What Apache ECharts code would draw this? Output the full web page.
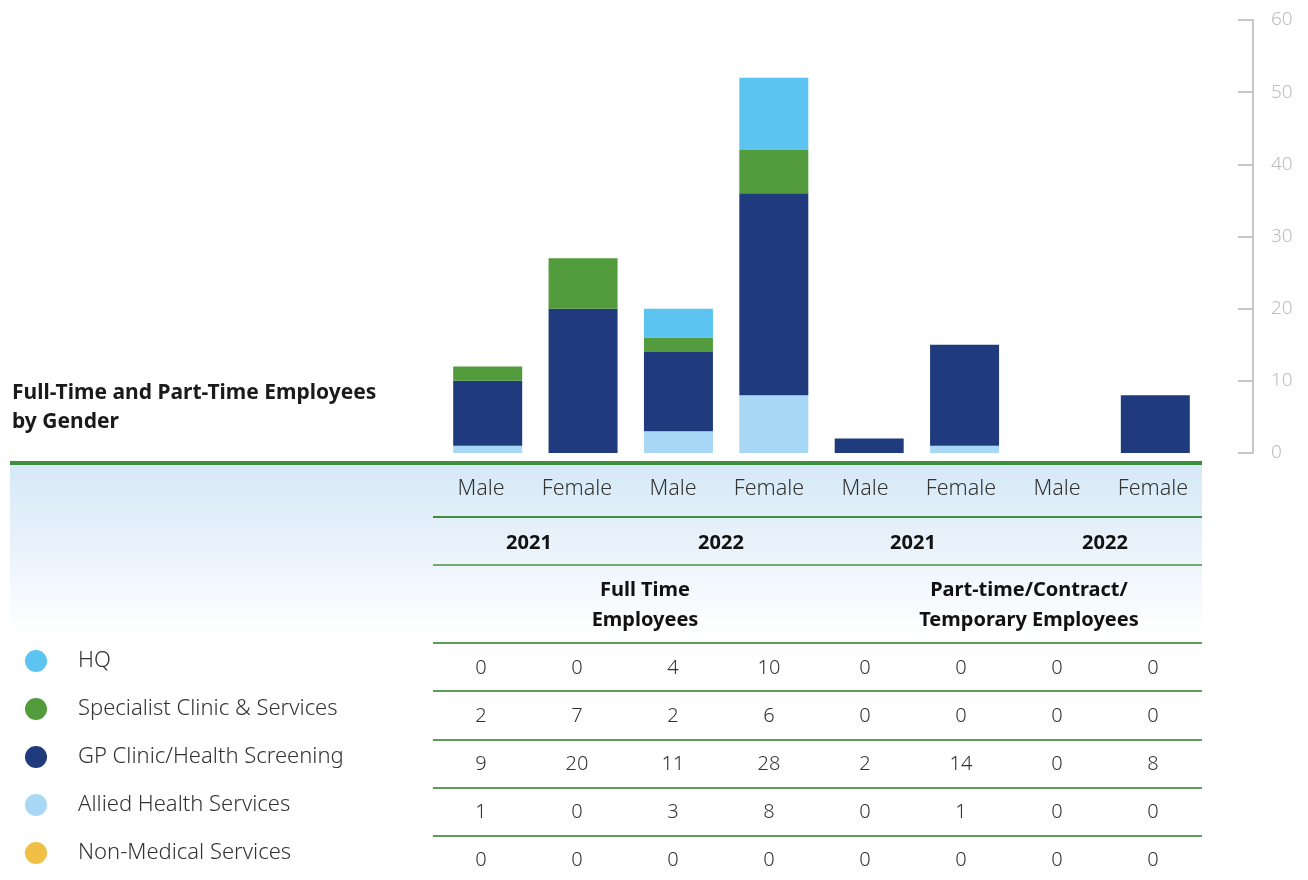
<!DOCTYPE html>
<html>
<head>
<meta charset="utf-8">
<script src="https://cdn.jsdelivr.net/npm/echarts@6/dist/echarts.min.js"></script>
<style>
  html, body { margin: 0; padding: 0; background: #fff; }
  #chart { width: 1308px; height: 880px; }
</style>
</head>
<body>
<div id="chart"></div>
<script>
// data
const genders = ["Male", "Female", "Male", "Female", "Male", "Female", "Male", "Female"];
const years = ["2021", "2022", "2021", "2022"];
const groups = ["Full Time\nEmployees", "Part-time/Contract/\nTemporary Employees"];
const sectors = ["HQ", "Specialist Clinic & Services", "GP Clinic/Health Screening", "Allied Health Services", "Non-Medical Services"];
const hq = [0, 0, 4, 10, 0, 0, 0, 0];
const specialist = [2, 7, 2, 6, 0, 0, 0, 0];
const gp = [9, 20, 11, 28, 2, 14, 0, 8];
const allied = [1, 0, 3, 8, 0, 1, 0, 0];
const nonMedical = [0, 0, 0, 0, 0, 0, 0, 0];
const colors = ["#5bc4f1", "#529c3d", "#1f3a7d", "#a8d8f5", "#f0c046"];

const FONT = "Noto Sans";
const textCol = "#333";
const lineGreen = "#5b9f5b";

// table geometry
const tLeft = 433, colW = 96, tRight = 1202;
const rowY = [668, 716, 764, 812, 860];
const rowLines = [642, 690, 739, 787, 835];

const rows = [hq, specialist, gp, allied, nonMedical];
const colX = (i) => tLeft + colW * i + colW / 2;

const graphics = [];

// header background
graphics.push({
  type: "rect",
  shape: { x: 10, y: 464, width: tRight - 10, height: 172 },
  style: {
    fill: new echarts.graphic.LinearGradient(0, 0, 0, 1, [
      { offset: 0, color: "#d5e8f7" },
      { offset: 0.5, color: "#eaf3fb" },
      { offset: 1, color: "#ffffff" }
    ])
  },
  z: 0
});
// top green rule
graphics.push({
  type: "rect",
  shape: { x: 10, y: 461, width: tRight - 10, height: 4 },
  style: { fill: "#3e8e3e" }
});
// header rules
graphics.push({
  type: "rect",
  shape: { x: tLeft, y: 516, width: tRight - tLeft, height: 2 },
  style: { fill: "#3e8e3e" }
});
graphics.push({
  type: "rect",
  shape: { x: tLeft, y: 564, width: tRight - tLeft, height: 2 },
  style: { fill: "#72aa72" }
});
rowLines.forEach(function (y) {
  graphics.push({
    type: "rect",
    shape: { x: tLeft, y: y, width: tRight - tLeft, height: 2 },
    style: { fill: lineGreen }
  });
});

// title
graphics.push({
  type: "text",
  left: 12,
  top: 379,
  style: {
    text: "Full-Time and Part-Time Employees\nby Gender",
    font: "bold 21px '" + FONT + "'",
    lineHeight: 29,
    fill: "#1a1a1a"
  }
});

// gender row
genders.forEach(function (g, i) {
  graphics.push({
    type: "text",
    x: colX(i), y: 489,
    style: {
      text: g, fill: textCol, align: "center", verticalAlign: "middle",
      font: "300 21.5px '" + FONT + "'"
    }
  });
});
// year row
years.forEach(function (yr, i) {
  graphics.push({
    type: "text",
    x: tLeft + colW * 2 * i + colW, y: 543,
    style: {
      text: yr, fill: "#111", align: "center", verticalAlign: "middle",
      font: "bold 20px '" + FONT + "'"
    }
  });
});
// group row
const groupX = [645, 1029];
groups.forEach(function (gName, i) {
  graphics.push({
    type: "text",
    x: groupX[i], y: 605,
    style: {
      text: gName, fill: "#111", align: "center", verticalAlign: "middle",
      font: "bold 20px '" + FONT + "'", lineHeight: 30
    }
  });
});

// legend + values
sectors.forEach(function (s, r) {
  graphics.push({
    type: "circle",
    shape: { cx: 36, cy: rowY[r] - 7, r: 11 },
    style: { fill: colors[r] }
  });
  graphics.push({
    type: "text",
    x: 78, y: rowY[r] - 7,
    style: {
      text: s, fill: textCol, verticalAlign: "middle",
      font: "300 22px '" + FONT + "'"
    }
  });
  rows[r].forEach(function (v, i) {
    graphics.push({
      type: "text",
      x: colX(i), y: rowY[r],
      style: {
        text: String(v), fill: textCol, align: "center", verticalAlign: "middle",
        font: "300 20px '" + FONT + "'"
      }
    });
  });
});

const chart = echarts.init(document.getElementById("chart"));

function bar(name, data, color) {
  return {
    name: name,
    type: "bar",
    stack: "all",
    data: data,
    barWidth: 69,
    itemStyle: { color: color },
    emphasis: { disabled: true }
  };
}

chart.setOption({
  animation: false,
  grid: { left: 440, right: 105, top: 20, bottom: 427 },
  xAxis: {
    type: "category",
    data: genders,
    axisLine: { show: false },
    axisTick: { show: false },
    axisLabel: { show: false }
  },
  yAxis: {
    type: "value",
    position: "right",
    offset: 50,
    min: 0,
    max: 60,
    interval: 10,
    splitLine: { show: false },
    axisLine: { show: true, lineStyle: { color: "#b5b5b5", width: 1.5 } },
    axisTick: { show: true, inside: true, length: 15, lineStyle: { color: "#b5b5b5", width: 1.5 } },
    axisLabel: { color: "#bdbdbd", fontFamily: FONT, fontSize: 19, fontWeight: 300, margin: 18 }
  },
  series: [
    bar(sectors[3], allied, colors[3]),
    bar(sectors[2], gp, colors[2]),
    bar(sectors[1], specialist, colors[1]),
    bar(sectors[0], hq, colors[0]),
    bar(sectors[4], nonMedical, colors[4])
  ],
  graphic: graphics
});
</script>
</body>
</html>
